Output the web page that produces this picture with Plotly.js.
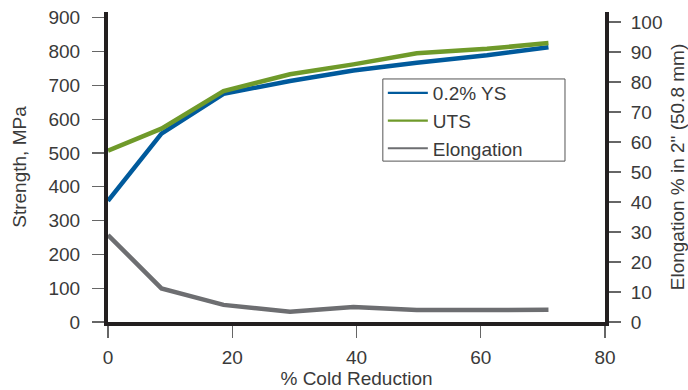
<!DOCTYPE html>
<html>
<head>
<meta charset="utf-8">
<script src="https://cdn.plot.ly/plotly-3.0.1.min.js"></script>
<style>html,body{margin:0;padding:0;background:#fff;}#chart{width:688px;height:390px;}</style>
</head>
<body>
<div id="chart"></div>
<script>
// Data
const coldReduction = [0, 8.6, 18.6, 29.3, 39.5, 49.7, 61, 70.9];
const yieldStrength = [358, 557, 675, 713, 744, 767, 789, 813];
const tensileStrength = [507, 572, 683, 733, 762, 795, 808, 825];
const elongation = [29, 11.2, 5.7, 3.4, 5.0, 4.0, 4.0, 4.1];
const seriesNames = ["0.2% YS", "UTS", "Elongation"];
const seriesColors = ["#005a9c", "#6f9a2a", "#6d6e71"];
const xTicks = [0, 20, 40, 60, 80];
const yTicks = [0, 100, 200, 300, 400, 500, 600, 700, 800, 900];
const y2Ticks = [0, 10, 20, 30, 40, 50, 60, 70, 80, 90, 100];

const FONT = "Liberation Sans, Arial, sans-serif";
const TXT = "#3a3a3a";
const AXIS = "#231f20";

const seriesY = [yieldStrength, tensileStrength, elongation];
const seriesAxis = ["y", "y", "y2"];

const traces = [];
// drawn lines (legend hidden)
seriesY.forEach((ys, i) => traces.push({
  x: coldReduction, y: ys, name: seriesNames[i], type: "scatter", mode: "lines",
  yaxis: seriesAxis[i], showlegend: false, line: {color: seriesColors[i], width: 4.5}
}));
// legend entries with thinner sample lines
seriesNames.forEach((n, i) => traces.push({
  x: [null], y: [null], name: n, type: "scatter", mode: "lines",
  yaxis: seriesAxis[i], showlegend: true, line: {color: seriesColors[i], width: 2.2}
}));

const layout = {
  width: 688, height: 390,
  margin: {l: 108, r: 83, t: 12, b: 68},
  paper_bgcolor: "#ffffff", plot_bgcolor: "#ffffff",
  font: {family: FONT, size: 19, color: TXT},
  showlegend: true,
  legend: {x: 0.553, y: 0.80, xanchor: "left", yanchor: "top",
    bgcolor: "rgba(0,0,0,0)", borderwidth: 0,
    tracegroupgap: 0, itemwidth: 40,
    font: {family: FONT, size: 19, color: TXT}, traceorder: "normal"},
  // legend frame (wider than Plotly's auto-sized box, as in the reference)
  shapes: [{type: "rect", xref: "paper", yref: "paper",
    x0: 0.553, x1: 0.9195, y0: 0.519, y1: 0.784,
    line: {color: "#555555", width: 1}, fillcolor: "#ffffff", layer: "above"}],
  xaxis: {
    range: [0, 80], tickvals: xTicks, ticktext: xTicks.map(String),
    showgrid: false, zeroline: false,
    showline: true, linecolor: AXIS, linewidth: 4,
    ticks: "outside", ticklen: 12, tickwidth: 1.2, tickcolor: "#666666",
    ticklabelstandoff: 3,
    tickfont: {family: FONT, size: 19, color: TXT},
    title: {text: "% Cold Reduction", font: {family: FONT, size: 19, color: TXT}, standoff: 2}
  },
  yaxis: {
    range: [0, 917], tickvals: yTicks, ticktext: yTicks.map(String),
    showgrid: false, zeroline: false,
    showline: true, linecolor: AXIS, linewidth: 4,
    ticks: "outside", ticklen: 12, tickwidth: 1.2, tickcolor: "#666666",
    ticklabelstandoff: 8,
    tickfont: {family: FONT, size: 19, color: TXT},
    title: {text: "Strength, MPa", font: {family: FONT, size: 19, color: TXT}, standoff: 18}
  },
  yaxis2: {
    overlaying: "y", side: "right",
    range: [0, 103.3], tickvals: y2Ticks, ticktext: y2Ticks.map(String),
    showgrid: false, zeroline: false,
    showline: true, linecolor: AXIS, linewidth: 4,
    ticks: "outside", ticklen: 12, tickwidth: 1.2, tickcolor: "#666666",
    ticklabelstandoff: 6,
    tickfont: {family: FONT, size: 19, color: TXT},
    title: {text: "Elongation % in 2\" (50.8 mm)", font: {family: FONT, size: 19, color: TXT}, standoff: 12}
  }
};

Plotly.newPlot("chart", traces, layout, {displayModeBar: false, staticPlot: true});
</script>
</body>
</html>
